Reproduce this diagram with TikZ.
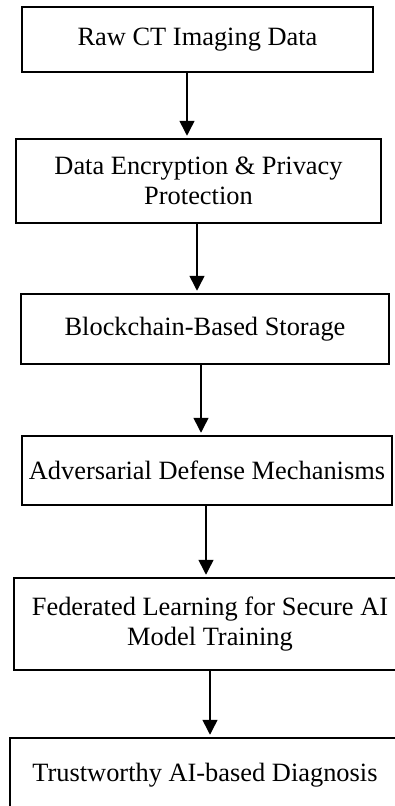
\documentclass[tikz,border=0pt]{standalone}
\usepackage{fontspec}
\setmainfont{Liberation Serif}
\usetikzlibrary{arrows.meta}

\begin{document}
\begin{tikzpicture}[x=1pt,y=1pt,
    flowbox/.style={draw, line width=2.5pt, align=center, inner sep=0pt,
      font=\fontsize{26.4}{30}\selectfont},
    flowarrow/.style={line width=1.5pt, -{Triangle[width=15pt,length=15pt]},
      shorten >=2pt}]

  \useasboundingbox (0,0) rectangle (395,-806);
  \clip (0,0) rectangle (395,-806);

  % Input data
  \node[flowbox, minimum width=351pt, minimum height=65pt] (raw) at (197.5,-39.5)
    {Raw CT Imaging Data};

  % Encryption
  \node[flowbox, minimum width=365pt, minimum height=84pt] (enc) at (198.5,-181)
    {Data Encryption \& Privacy\\Protection};

  % Storage
  \node[flowbox, minimum width=368pt, minimum height=70pt] (store) at (205,-329)
    {Blockchain-Based Storage};

  % Defense
  \node[flowbox, minimum width=370pt, minimum height=69pt] (adv) at (207,-470.5)
    {Adversarial Defense Mechanisms};

  % Federated training (runs off the right edge)
  \node[flowbox, minimum width=392pt, minimum height=92pt] (fed) at (210,-624)
    {Federated Learning for Secure AI\\Model Training};

  % Diagnosis (runs off the page)
  \node[flowbox, minimum width=390pt, minimum height=74pt] (diag) at (205,-775)
    {Trustworthy AI-based Diagnosis};

  % Arrows
  \draw[flowarrow] ([xshift=-10.5pt]raw.south) -- ([xshift=-11.5pt]enc.north);
  \draw[flowarrow] ([xshift=-1.5pt]enc.south) -- ([xshift=-8pt]store.north);
  \draw[flowarrow] ([xshift=-4pt]store.south) -- ([xshift=-6pt]adv.north);
  \draw[flowarrow] ([xshift=-1pt]adv.south) -- ([xshift=-4pt]fed.north);
  \draw[flowarrow] (fed.south) -- ([xshift=5pt]diag.north);

\end{tikzpicture}
\end{document}
